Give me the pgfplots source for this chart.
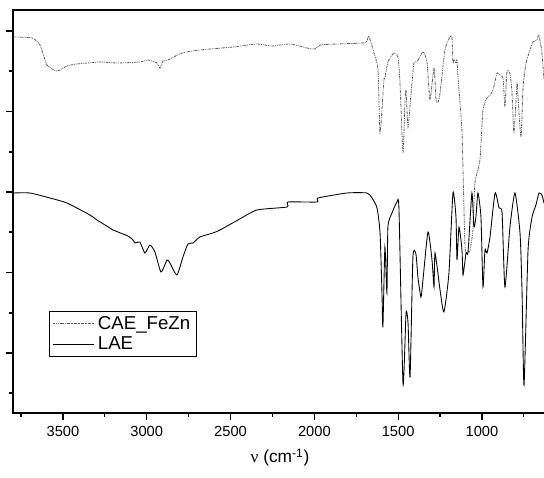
\documentclass[border=0pt]{standalone}
\usepackage{pgfplots}
\pgfplotsset{compat=1.18}
\usepackage{pgfplotstable}
\usepackage{fontspec}
\setmainfont{Liberation Sans}
\newfontfamily\serifnu{Liberation Serif}

\pgfplotstableread{
x y
3798 376
3685 375
3637 368
3595 348
3536 342
3476 347
3416 349
3279 351
3178 350
3041 351
2993 353
2939 350
2921 345
2903 352
2873 353
2790 360
2683 363
2486 366
2342 369
2253 367
2145 369
2044 365
1996 364
1966 368
1865 369
1710 370
1686 372
1677 377
1665 372
1644 360
1620 343
1608 280
1585 333
1579 335
1561 351
1525 360
1501 356
1489 330
1471 260
1459 313
1453 323
1441 286
1423 320
1406 350
1388 351
1352 361
1328 351
1310 313
1286 345
1274 313
1262 311
1250 320
1221 363
1191 376
1179 376
1173 350
1167 353
1155 350
1149 353
1143 336
1119 280
1101 166
1083 161
1071 163
1054 183
1042 230
1012 253
994 303
970 315
952 318
934 323
910 340
892 338
874 335
863 306
851 341
833 340
821 321
809 280
791 330
785 316
767 276
755 326
737 350
713 363
696 371
672 373
660 378
642 360
630 333
}\caefezn

\pgfplotstableread{
x y
3798 220
3697 220
3578 215
3476 210
3339 198
3297 193
3220 185
3202 183
3112 177
3082 173
3070 170
3041 171
3011 160
2981 168
2951 161
2915 141
2879 153
2862 150
2820 138
2784 156
2754 169
2724 170
2683 176
2605 180
2563 183
2456 193
2342 203
2163 206
2157 211
1984 211
1978 215
1805 220
1686 220
1656 215
1626 205
1608 180
1597 123
1591 86
1579 166
1567 120
1561 186
1537 200
1507 211
1495 203
1471 29
1453 100
1441 90
1429 36
1412 156
1394 159
1382 136
1364 116
1352 133
1322 181
1298 153
1286 126
1280 160
1250 123
1227 101
1197 140
1173 220
1155 196
1149 153
1137 186
1119 163
1113 138
1095 160
1083 161
1060 220
1048 186
1036 196
1024 220
1006 196
994 126
982 163
970 160
952 176
922 220
898 205
880 200
863 126
833 186
803 220
773 180
761 123
749 28
725 163
701 196
678 208
660 220
642 218
630 210
}\lae

\begin{document}
\begin{tikzpicture}
\useasboundingbox (-9.75pt,-48.75pt) rectangle (398.25pt,309.75pt);
\begin{axis}[
  scale only axis,
  width=400.5pt, height=302.25pt,
  x dir=reverse,
  xmin=612, xmax=3798,
  ymin=0, ymax=403,
  axis line style={line width=1.1pt},
  tick align=outside,
  xtick pos=bottom, ytick pos=left,
  xtick={1000,1500,2000,2500,3000,3500},
  minor xtick={750,1250,1750,2250,2750,3250,3750},
  ytick={60,140.5,221,301.5,382},
  minor ytick={20,100,181,261,342},
  yticklabels={},
  major tick length=5.5pt,
  minor tick length=3pt,
  every tick/.style={black, line width=0.9pt},
  /pgf/number format/assume math mode=true,
  /pgf/number format/set thousands separator={},
  tick label style={font=\fontsize{11}{13}\selectfont},
  xticklabel style={yshift=-1pt},
  xlabel={{\serifnu ν} (cm\textsuperscript{-1})},
  xlabel style={font=\fontsize{13}{15}\selectfont, at={(axis description cs:0.5,0)}, anchor=base, yshift=-37.5pt},
  legend style={at={(0.068,0.139)}, anchor=south west, draw=black, line width=0.6pt,
    font=\fontsize{14}{16}\selectfont, inner xsep=2pt, inner ysep=2.5pt, row sep=2.5pt,
    nodes={inner xsep=2.5pt, inner ysep=1pt}},
  legend cell align=left,
  legend image code/.code={\draw[#1] (0pt,0pt) -- (31pt,0pt);},
]
\addplot[black!65, line width=0.6pt, smooth, tension=0.35, dash pattern=on 2pt off 0.7pt on 0.6pt off 0.7pt on 0.6pt off 0.7pt] table[x=x,y=y] {\caefezn};
\addlegendentry{CAE\_FeZn}
\addplot[black, line width=0.65pt, smooth, tension=0.35] table[x=x,y=y] {\lae};
\addlegendentry{LAE}
\end{axis}
\end{tikzpicture}
\end{document}
